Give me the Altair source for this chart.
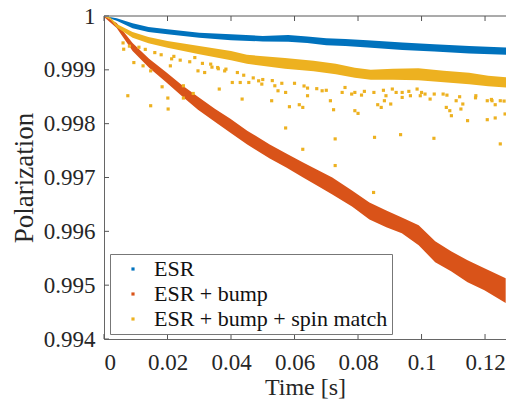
import altair as alt
import pandas as pd

# ---------------- data ----------------
series_names = ["ESR", "ESR + bump", "ESR + bump + spin match"]
series_colors = ["#0072BD", "#D95319", "#EDB120"]

# ESR (blue) band: upper / lower envelope
esr_t = [0, 0.004, 0.009, 0.014, 0.02, 0.03, 0.04, 0.05, 0.058, 0.064, 0.07,
         0.076, 0.083, 0.094, 0.104, 0.115, 0.127]
esr_hi = [1.0, 0.99996, 0.999865, 0.999796, 0.999754, 0.999691, 0.999661, 0.99963,
          0.999648, 0.99962, 0.999587, 0.999574, 0.99955, 0.999506, 0.999476,
          0.999444, 0.999413]
esr_lo = [0.99999, 0.99991, 0.999772, 0.999704, 0.999661, 0.999598, 0.99955, 0.999528,
          0.999524, 0.9995, 0.999457, 0.999444, 0.999413, 0.99937, 0.999339,
          0.999302, 0.999278]

# ESR + bump (orange) band
bump_t = [0, 0.004, 0.009, 0.0142, 0.0194, 0.0244, 0.0296, 0.0349, 0.0398, 0.0451,
          0.0522, 0.0574, 0.0627, 0.0676, 0.0719, 0.0781, 0.0836, 0.0889, 0.0938,
          0.0991, 0.1043, 0.1093, 0.1145, 0.1198, 0.1265]
bump_hi = [1.0, 0.99987, 0.9995, 0.999204, 0.998963, 0.998722, 0.9985, 0.998278,
           0.998093, 0.99787, 0.997611, 0.997444, 0.997278, 0.99713, 0.997,
           0.996759, 0.996537, 0.996389, 0.996259, 0.996111, 0.995815, 0.99563,
           0.995463, 0.995315, 0.99513]
bump_lo = [0.999981, 0.999778, 0.999352, 0.999037, 0.998778, 0.998519, 0.998259,
           0.998037, 0.997833, 0.997611, 0.997352, 0.997185, 0.997, 0.996833,
           0.996685, 0.996463, 0.996222, 0.996074, 0.995963, 0.995741, 0.995426,
           0.995259, 0.995056, 0.994907, 0.994667]

# ESR + bump + spin match (yellow) band
spin_t = [0, 0.002, 0.004, 0.009, 0.014, 0.02, 0.03, 0.04, 0.045, 0.057, 0.066,
          0.073, 0.079, 0.084, 0.091, 0.099, 0.107, 0.115, 0.121, 0.127]
spin_hi = [1.0, 0.999972, 0.999852, 0.999704, 0.999611, 0.999537, 0.999444, 0.999352,
           0.999278, 0.999222, 0.999167, 0.999111, 0.999037, 0.999, 0.999019,
           0.999028, 0.998981, 0.998944, 0.998889, 0.998861]
spin_lo = [0.99999, 0.999935, 0.999785, 0.999595, 0.999495, 0.99941, 0.999289,
           0.999178, 0.999113, 0.99902, 0.998974, 0.998918, 0.998853, 0.998816,
           0.998816, 0.998807, 0.99877, 0.998733, 0.998696, 0.998668]

# ESR + bump + spin match: scattered points below the band
spin_out_t = [0.0062, 0.0075, 0.0094, 0.0123, 0.0147, 0.0147, 0.0183, 0.0201, 0.0202,
              0.0209, 0.025, 0.0281, 0.025, 0.0296, 0.0317, 0.0363, 0.0358, 0.0384,
              0.0404, 0.0435, 0.0429, 0.0456, 0.0213, 0.0286, 0.0336, 0.0487, 0.0497,
              0.0528, 0.0538, 0.0548, 0.0572, 0.0572, 0.0584, 0.0615, 0.0626, 0.0626,
              0.0641, 0.0641, 0.0687, 0.0713, 0.0723, 0.0728, 0.0728, 0.0759, 0.079,
              0.079, 0.08, 0.0811, 0.0852, 0.0849, 0.0862, 0.0873, 0.0883, 0.0888,
              0.0903, 0.0908, 0.0934, 0.0939, 0.0939, 0.0965, 0.0986, 0.0996, 0.1011,
              0.1027, 0.1039, 0.1068, 0.1078, 0.1089, 0.1094, 0.1109, 0.1124, 0.113,
              0.1145, 0.1171, 0.1207, 0.1207, 0.1222, 0.1232, 0.1248, 0.1248, 0.1232,
              0.1263,
              0.006, 0.008, 0.011, 0.013, 0.016, 0.018, 0.022, 0.024, 0.027, 0.031,
              0.034, 0.036, 0.038, 0.042, 0.044, 0.047, 0.05, 0.053, 0.056, 0.06,
              0.063, 0.067, 0.07, 0.075, 0.078, 0.082, 0.085, 0.088, 0.092, 0.096,
              0.1, 0.104, 0.108, 0.112, 0.117, 0.122, 0.126]
spin_out_p = [0.999383, 0.998519, 0.999135, 0.999074, 0.998333, 0.998981, 0.998685,
              0.998476, 0.998272, 0.999074, 0.998476, 0.998561, 0.998704, 0.998981,
              0.99895, 0.998643, 0.999043, 0.999013, 0.998765, 0.998457, 0.998765,
              0.998765, 0.999204, 0.999228, 0.999106, 0.998796, 0.998735, 0.998426,
              0.998704, 0.998611, 0.99858, 0.99792, 0.998315, 0.998352, 0.998302,
              0.997524, 0.998519, 0.998661, 0.998611, 0.998426, 0.998259, 0.997717,
              0.997222, 0.998672, 0.99858, 0.998241, 0.998191, 0.998531, 0.997746,
              0.996722, 0.998352, 0.998302, 0.998426, 0.998519, 0.998365, 0.998643,
              0.997796, 0.998487, 0.99858, 0.998519, 0.998643, 0.998519, 0.99855,
              0.998457, 0.997728, 0.99855, 0.998302, 0.998241, 0.998148, 0.998426,
              0.998272, 0.998365, 0.998056, 0.998519, 0.998426, 0.998074, 0.998426,
              0.998106, 0.997624, 0.998426, 0.998352, 0.99818,
              0.9995, 0.99944, 0.99942, 0.99938, 0.99932, 0.99928, 0.99925, 0.99918,
              0.99915, 0.99912, 0.99905, 0.99902, 0.99898, 0.99895, 0.9989, 0.99885,
              0.99882, 0.9988, 0.99875, 0.99875, 0.9987, 0.99865, 0.99862, 0.99858,
              0.99855, 0.9986, 0.99858, 0.99862, 0.99858, 0.9986, 0.99858, 0.99855,
              0.99853, 0.9985, 0.99848, 0.99845, 0.99842]

x_ticks = [0, 0.02, 0.04, 0.06, 0.08, 0.1, 0.12]
y_ticks = [0.994, 0.995, 0.996, 0.997, 0.998, 0.999, 1.0]

# ---------------- chart ----------------
W, H = 402, 323
FONT = "Liberation Serif, Times New Roman, Times, serif"
TXT = "#262626"
xs = alt.Scale(domain=[0, 0.1266], nice=False, zero=False)
ys = alt.Scale(domain=[0.994, 1.0], nice=False, zero=False)

x_axis = alt.Axis(values=x_ticks, format="~g", tickSize=0, grid=False,
                  labelFont=FONT, titleFont=FONT, labelColor=TXT, titleColor=TXT,
                  domainColor="#666", domainWidth=1,
                  labelFontSize=23, labelPadding=12, title="Time [s]",
                  titleFontSize=24, titleFontWeight="normal",
                  titleY=55, titleBaseline="alphabetic")
y_axis = alt.Axis(values=y_ticks, format="~g", tickSize=0, grid=False,
                  labelFont=FONT, titleFont=FONT, labelColor=TXT, titleColor=TXT,
                  domainColor="#666", domainWidth=1,
                  labelFontSize=23, labelPadding=9, title="Polarization",
                  titleFontSize=27, titleFontWeight="normal",
                  titleX=-72, titleY=H / 2, titleBaseline="alphabetic")


def band(t, hi, lo, color):
    df = pd.DataFrame({"t": t, "hi": hi, "lo": lo})
    return alt.Chart(df).mark_area(color=color, opacity=1, clip=True).encode(
        x=alt.X("t:Q", scale=xs, axis=x_axis),
        y=alt.Y("hi:Q", scale=ys, axis=y_axis),
        y2="lo:Q",
    )


blue = band(esr_t, esr_hi, esr_lo, series_colors[0])
orange = band(bump_t, bump_hi, bump_lo, series_colors[1])
yellow = band(spin_t, spin_hi, spin_lo, series_colors[2])

pts_df = pd.DataFrame({"t": spin_out_t, "p": spin_out_p,
                       "series": [series_names[2]] * len(spin_out_t)})
pts = alt.Chart(pts_df).mark_square(size=10, opacity=1, clip=True).encode(
    x=alt.X("t:Q", scale=xs),
    y=alt.Y("p:Q", scale=ys),
    color=alt.Color("series:N",
                    scale=alt.Scale(domain=series_names, range=series_colors),
                    legend=alt.Legend(title=None, orient="none", legendX=6, legendY=238,
                                      padding=4, symbolOffset=8, labelOffset=10,
                                      strokeColor="#777", fillColor="white",
                                      labelFont=FONT, labelFontSize=22,
                                      labelColor="#111", symbolType="square",
                                      symbolSize=10, symbolStrokeWidth=0,
                                      symbolOpacity=1, rowPadding=3, labelLimit=400)),
)

tx = pd.DataFrame({"v": x_ticks})
ty = pd.DataFrame({"v": y_ticks})
tick_col = "#555"
xt_bot = alt.Chart(tx).mark_rule(color=tick_col, strokeWidth=1).encode(
    x=alt.X("v:Q", scale=xs), y=alt.value(H), y2=alt.value(H - 5))
xt_top = alt.Chart(tx).mark_rule(color=tick_col, strokeWidth=1).encode(
    x=alt.X("v:Q", scale=xs), y=alt.value(0), y2=alt.value(5))
yt_left = alt.Chart(ty).mark_rule(color=tick_col, strokeWidth=1).encode(
    y=alt.Y("v:Q", scale=ys), x=alt.value(0), x2=alt.value(5))
top_line = alt.Chart(tx).mark_rule(color="#aaa", strokeWidth=1).encode(
    x=alt.value(0), x2=alt.value(W), y=alt.value(0))

chart = alt.layer(blue, orange, yellow, pts, top_line, xt_bot, xt_top, yt_left).properties(
    width=W, height=H,
    autosize=alt.AutoSizeParams(type="none"),
    padding={"left": 96, "top": 8, "right": 0, "bottom": 60},
    background="white",
).configure_view(stroke=None)

chart.save("out.html", embed_options={"renderer": "svg", "actions": False})
